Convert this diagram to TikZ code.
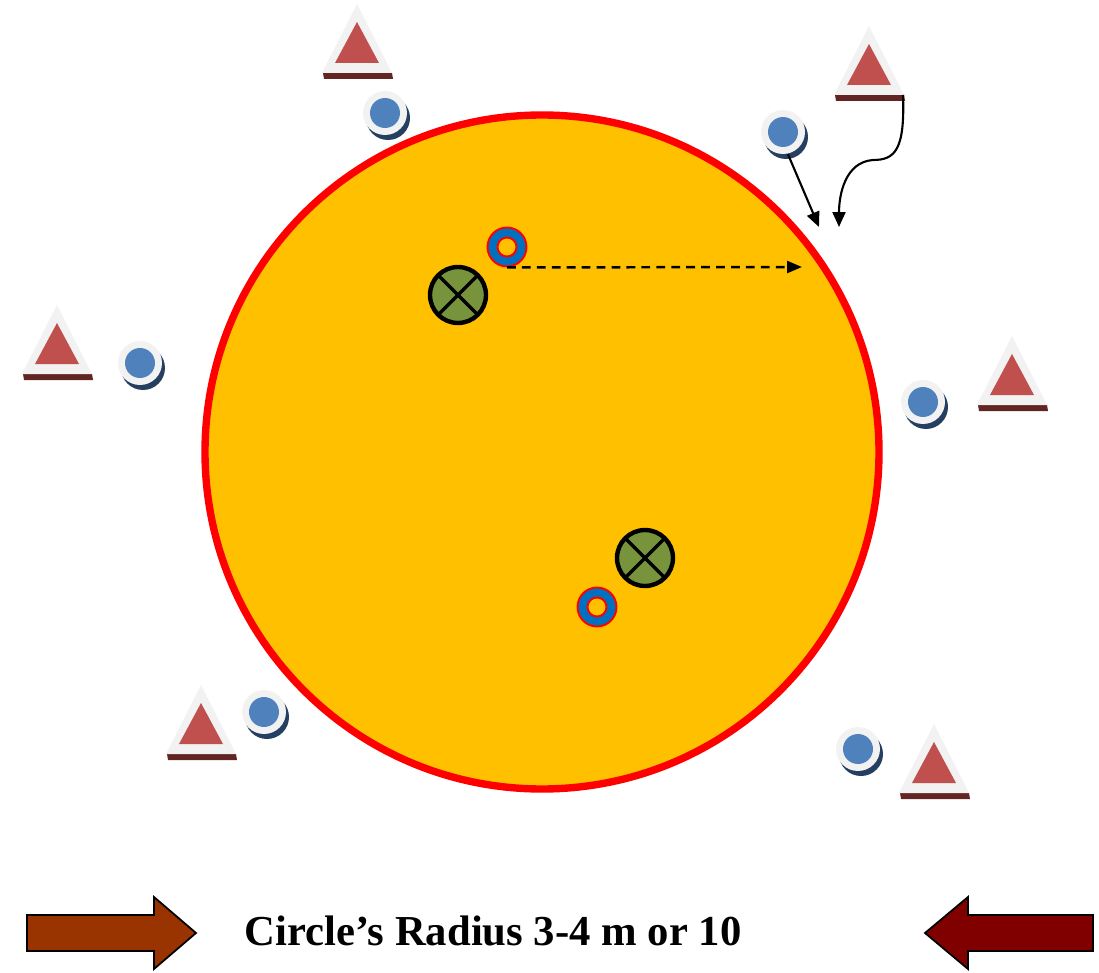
\documentclass[tikz,border=0pt]{standalone}
\usepackage{fontspec}
\setmainfont{Liberation Serif}
\usetikzlibrary{arrows.meta, calc}

\definecolor{fieldorange}{HTML}{FFC000}
\definecolor{conewhite}{HTML}{F2F2F2}
\definecolor{conered}{HTML}{C0504D}
\definecolor{conebar}{HTML}{632523}
\definecolor{dotblue}{HTML}{4F81BD}
\definecolor{dotshadow}{HTML}{243F60}
\definecolor{ringblue}{HTML}{0070C0}
\definecolor{crossgreen}{HTML}{77933C}
\definecolor{leftbrown}{HTML}{993300}
\definecolor{rightbrown}{HTML}{800000}

\begin{document}
\begin{tikzpicture}[
    x=0.02cm, y=-0.02cm,
    >={Triangle[length=0.3cm, width=0.26cm]},
    field/.style={draw=red, fill=fieldorange, line width=4.2pt},
    dot/.style={circle, fill=conewhite, minimum size=0.88cm, inner sep=0pt,
                path picture={\fill[dotblue] (path picture bounding box.center)
                  circle (0.3cm);}},
    ring/.style={circle, draw=red, line width=1.1pt, fill=ringblue,
                 minimum size=0.78cm, inner sep=0pt,
                 path picture={\draw[red, fill=fieldorange, line width=1.1pt]
                   (path picture bounding box.center) circle (0.19cm);}},
    cross/.style={circle, draw, line width=2.5pt, fill=crossgreen,
                  minimum size=1.12cm, inner sep=0pt,
                  path picture={\draw[line width=2pt]
                    (path picture bounding box.north west) --
                    (path picture bounding box.south east)
                    (path picture bounding box.north east) --
                    (path picture bounding box.south west);}},
    pass/.style={->, line width=1.2pt},
    run/.style={->, line width=1.4pt, dash pattern=on 5pt off 3.5pt,
                >={Triangle[length=0.3cm, width=0.24cm]}},
    bigarrow/.style={draw=black, line width=1pt, line join=miter},
    caption/.style={font=\fontsize{24.3}{28}\selectfont\bfseries, anchor=base}
  ]
  \useasboundingbox (0,0) rectangle (1099,973);

  % Playing circle
  \draw[field] (542,452) circle (337);

  % Cones (base centre x / base y)
  \foreach \i/\x/\y in {
    1/357/73,
    2/869/95,
    3/57/374,
    4/1012/405,
    5/201/754,
    6/934/793} {
    \fill[conebar] (\x-34,\y) -- (\x+35,\y) -- (\x+36,\y+6) -- (\x-33,\y+6) -- cycle;
    \fill[conewhite] (\x-35,\y) -- (\x,\y-69) -- (\x+35,\y) -- cycle;
    \fill[conered] (\x-22,\y-10) -- (\x,\y-51) -- (\x+22,\y-10) -- cycle;
    \coordinate (c\i) at (\x+34,\y);
  }

  % Players
  \foreach \i/\x/\y in {
    1/385/113,
    2/783/132,
    3/140/363,
    4/923/402,
    5/264/712,
    6/858/749} {
    \fill[dotshadow] (\x+3,\y+5) circle (22);
    \node[dot] (d\i) at (\x,\y) {};
  }

  % Rings and crosses inside the circle
  \node[ring] (r1) at (507,247) {};
  \node[ring] (r2) at (597,607) {};
  \node[cross] (x1) at (458,295) {};
  \node[cross] (x2) at (645,558) {};

  % Run to the edge
  \coordinate (edge) at (802,267);
  \draw[run] (r1.south) -- (edge);

  % Passes at the top right
  \coordinate (in1) at (819,227);
  \coordinate (in2) at (839,227);
  \draw[pass] (d2.south) ++(5,0) -- (in1);
  \draw[pass] (c2) .. controls (905,150) and (895,160) .. (873,160)
    .. controls (845,162) and (839,195) .. (in2);

  % Bottom arrows and caption
  \draw[bigarrow, fill=leftbrown] (27,915) -- (154,915) -- (154,897) -- (196,933)
    -- (154,969) -- (154,951) -- (27,951) -- cycle;
  \draw[bigarrow, fill=rightbrown] (1093,915) -- (968,915) -- (968,897) -- (925,933)
    -- (968,969) -- (968,951) -- (1093,951) -- cycle;
  \node[caption] (cap) at (493,945) {Circle’s Radius 3-4 m or 10};
\end{tikzpicture}
\end{document}
